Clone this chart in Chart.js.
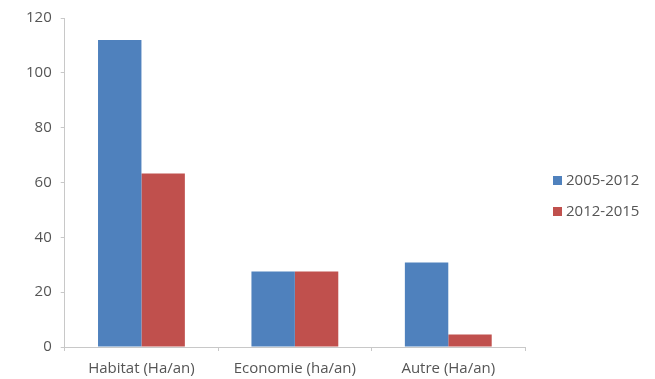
<!DOCTYPE html>
<html>
<head>
<meta charset="utf-8">
<script src="https://cdn.jsdelivr.net/npm/chart.js@4/dist/chart.umd.min.js"></script>
<style>
  html, body { margin: 0; padding: 0; background: #ffffff; }
  #wrap { width: 655px; height: 379px; }
</style>
</head>
<body>
<div id="wrap"><canvas id="c" width="655" height="379"></canvas></div>
<script>
// Consommation d'espace par usage
const categories = ['Habitat (Ha/an)', 'Economie (ha/an)', 'Autre (Ha/an)'];
const seriesNames = ['2005-2012', '2012-2015'];
const values2005_2012 = [112, 27.5, 30.8];
const values2012_2015 = [63.3, 27.5, 4.6];
const yTicks = [0, 20, 40, 60, 80, 100, 120];
const seriesColors = ['#4F81BD', '#C0504D'];

const textColor = '#555555';
const axisColor = '#c8c8c8';
const fontFamily = "'Open Sans', 'Liberation Sans', sans-serif";
const fontSize = 15;

// Legend drawn to the right of the plot area, vertically stacked
const sideLegend = {
  id: 'sideLegend',
  afterDraw(chart) {
    const { ctx, chartArea } = chart;
    const x = chartArea.right + 28;
    const mid = (chartArea.top + chartArea.bottom) / 2;
    const y0 = mid - 2;
    const step = 31;
    ctx.save();
    ctx.font = fontSize + 'px ' + fontFamily;
    ctx.textBaseline = 'middle';
    ctx.textAlign = 'left';
    chart.data.datasets.forEach((ds, i) => {
      const y = y0 + i * step;
      ctx.fillStyle = ds.backgroundColor;
      ctx.fillRect(x, y - 4.5, 9, 9);
      ctx.fillStyle = textColor;
      ctx.fillText(ds.label, x + 13, y + 0.5);
    });
    ctx.restore();
  }
};

new Chart(document.getElementById('c'), {
  type: 'bar',
  data: {
    labels: categories,
    datasets: [
      { label: seriesNames[0], data: values2005_2012, backgroundColor: seriesColors[0] },
      { label: seriesNames[1], data: values2012_2015, backgroundColor: seriesColors[1] }
    ]
  },
  options: {
    responsive: false,
    animation: false,
    devicePixelRatio: 1,
    layout: { padding: { left: 17, right: 130, top: 10, bottom: -8 } },
    datasets: { bar: { categoryPercentage: 0.566, barPercentage: 1.0 } },
    plugins: {
      tooltip: { enabled: false },
      legend: { display: false }
    },
    scales: {
      x: {
        offset: true,
        grid: {
          display: true,
          drawOnChartArea: false,
          drawTicks: true,
          tickLength: 4,
          color: axisColor,
          offset: true
        },
        border: { display: true, color: axisColor, width: 1 },
        ticks: { color: textColor, font: { family: fontFamily, size: fontSize }, padding: 9 }
      },
      y: {
        min: 0,
        max: 120,
        afterBuildTicks: (axis) => { axis.ticks = yTicks.map(v => ({ value: v })); },
        grid: {
          display: true,
          drawOnChartArea: false,
          drawTicks: true,
          tickLength: 4,
          color: axisColor
        },
        border: { display: true, color: axisColor, width: 1 },
        ticks: { color: textColor, font: { family: fontFamily, size: fontSize }, padding: 9 }
      }
    }
  },
  plugins: [sideLegend]
});
</script>
</body>
</html>
